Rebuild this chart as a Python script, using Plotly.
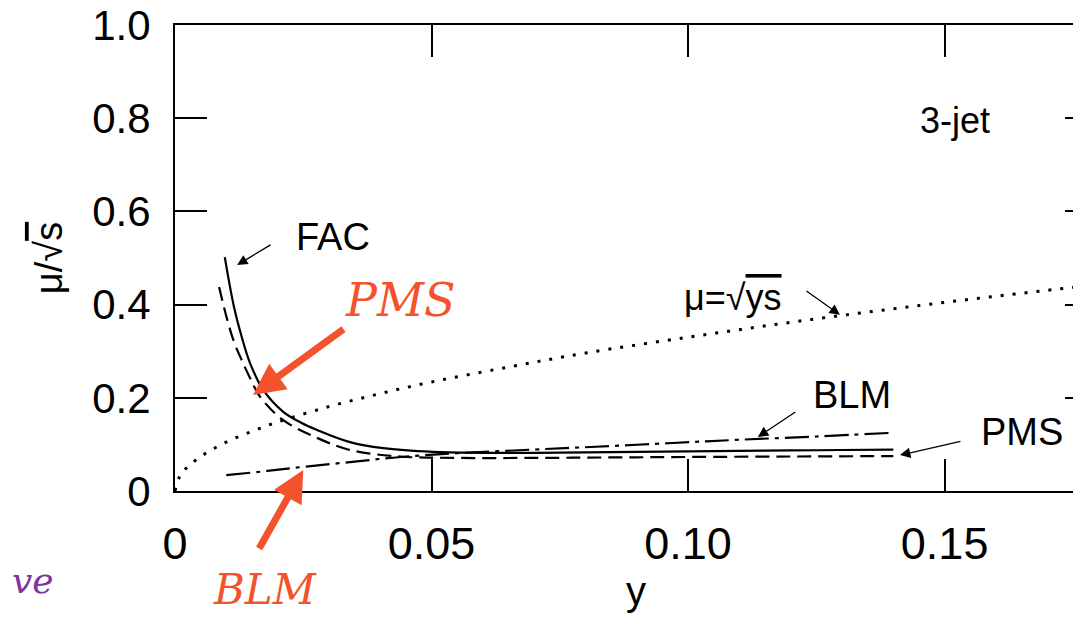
import plotly.graph_objects as go

# ---- data ----
fac_x = [0.0097, 0.0115, 0.013, 0.0146, 0.0172, 0.0211, 0.0245, 0.0277, 0.0341, 0.0406,
         0.0503, 0.060, 0.070, 0.080, 0.090, 0.100, 0.110, 0.120, 0.130, 0.140]
fac_y = [0.502, 0.395, 0.331, 0.275, 0.217, 0.170, 0.147, 0.131, 0.105, 0.092,
         0.084, 0.082, 0.082, 0.083, 0.084, 0.085, 0.086, 0.087, 0.088, 0.089]

pms_x = [0.0086, 0.010, 0.0115, 0.013, 0.0146, 0.0166, 0.0211, 0.0277, 0.0341, 0.0439,
         0.055, 0.070, 0.085, 0.100, 0.120, 0.140]
pms_y = [0.438, 0.375, 0.320, 0.281, 0.243, 0.202, 0.152, 0.114, 0.088, 0.074,
         0.071, 0.071, 0.072, 0.073, 0.074, 0.075]

blm_x = [0.0100, 0.018, 0.026, 0.035, 0.044, 0.055, 0.070, 0.082, 0.097, 0.110, 0.125, 0.140]
blm_y = [0.034, 0.043, 0.053, 0.063, 0.073, 0.081, 0.089, 0.095, 0.103, 0.110, 0.117, 0.125]

sq_x = [0, 0.001, 0.003, 0.006, 0.01, 0.015, 0.02, 0.03, 0.04, 0.05, 0.065, 0.08,
        0.10, 0.12, 0.14, 0.16, 0.18]
sq_y = [0, 0.033, 0.057, 0.081, 0.105, 0.128, 0.148, 0.181, 0.209, 0.234, 0.266, 0.296,
        0.330, 0.362, 0.391, 0.418, 0.443]

x_ticks = [0, 0.05, 0.10, 0.15]
x_tick_labels = ["0", "0.05", "0.10", "0.15"]
y_ticks = [0, 0.2, 0.4, 0.6, 0.8, 1.0]
y_tick_labels = ["0", "0.2", "0.4", "0.6", "0.8", "1.0"]

FONT = "Liberation Sans, Arial, Helvetica, sans-serif"
RED = "#f4522d"

fig = go.Figure()
fig.add_trace(go.Scatter(x=sq_x, y=sq_y, mode="lines", line_shape="spline",
                         line=dict(color="black", width=3, dash="3px,9px"), name="sqrt"))
fig.add_trace(go.Scatter(x=fac_x, y=fac_y, mode="lines", line_shape="spline",
                         line=dict(color="black", width=2.2), name="FAC"))
fig.add_trace(go.Scatter(x=pms_x, y=pms_y, mode="lines", line_shape="spline",
                         line=dict(color="black", width=2.2, dash="14px,7px"), name="PMS"))
fig.add_trace(go.Scatter(x=blm_x, y=blm_y, mode="lines", line_shape="spline",
                         line=dict(color="black", width=2.2, dash="24px,6px,4px,6px"), name="BLM"))
# dummy trace for the right-hand tick axis
fig.add_trace(go.Scatter(x=[None], y=[None], yaxis="y2", showlegend=False, hoverinfo="skip"))

ann = []
def label(x, y, t, size=38, color="black", fam=FONT, xref="x", yref="y", xanchor="center"):
    ann.append(dict(x=x, y=y, xref=xref, yref=yref, text=t, showarrow=False,
                    xanchor=xanchor, yanchor="middle",
                    font=dict(family=fam, size=size, color=color)))

def arrow(x, y, ax, ay, color="black", width=1.3, size=1.6):
    ann.append(dict(x=x, y=y, xref="x", yref="y", ax=ax, ay=ay, text="", showarrow=True,
                    arrowhead=2, arrowsize=size, arrowwidth=width, arrowcolor=color,
                    standoff=0, startstandoff=0))

label(0.0308, 0.545, "FAC")
label(0.152, 0.796, "3-jet", size=36)
label(0.1088, 0.416, "μ=√<span style='text-decoration:overline'>ys</span>", size=36)
label(0.132, 0.206, "BLM")
label(0.165, 0.127, "PMS")
arrow(0.0121, 0.485, 35, -21)
arrow(0.1296, 0.378, -35, -25)
arrow(0.1136, 0.116, 39, -26)
arrow(0.1413, 0.077, 62, -14)

# red overlay notes
label(0.0439, 0.41, "<i>PMS</i>", size=46, color=RED, fam="DejaVu Serif, serif")
label(0.0976, -0.2124, "<i>BLM</i>", size=42, color=RED, fam="DejaVu Serif, serif",
      xref="paper", yref="paper")
arrow(0.0152, 0.206, 92, -67, color=RED, width=7, size=0.9)
arrow(0.025, 0.045, -45, 80, color=RED, width=7, size=0.9)
label(-0.179, -0.191, "<i>ve</i>", size=36, color="#7a35a0", fam="DejaVu Serif, serif",
      xref="paper", yref="paper", xanchor="left")

fig.update_layout(
    width=1089, height=624,
    margin=dict(l=167, r=0, t=17, b=141, autoexpand=False),
    paper_bgcolor="white", plot_bgcolor="white",
    showlegend=False,
    annotations=ann,
    xaxis=dict(range=[0, 0.1797], tickvals=x_ticks, ticktext=x_tick_labels, automargin=False,
               ticks="inside", ticklen=32, tickwidth=1.6, tickcolor="black",
               showline=True, linecolor="black", linewidth=2, mirror="ticks",
               showgrid=False, zeroline=False, ticklabelstandoff=12,
               ticklabeloverflow="allow",
               tickfont=dict(family=FONT, size=45, color="black"),
               title=dict(text="y", font=dict(family=FONT, size=40, color="black"), standoff=6)),
    yaxis=dict(range=[0, 1.0], tickvals=y_ticks, ticktext=y_tick_labels, automargin=False,
               ticks="inside", ticklen=32, tickwidth=1.6, tickcolor="black",
               showline=True, linecolor="black", linewidth=2,
               showgrid=False, zeroline=False, ticklabelstandoff=14,
               ticklabeloverflow="allow",
               tickfont=dict(family=FONT, size=42, color="black"),
               title=dict(text="μ/√<span style='text-decoration:overline'>s</span>",
                          font=dict(family=FONT, size=38, color="black"), standoff=18)),
    yaxis2=dict(range=[0, 1.0], overlaying="y", side="right", tickvals=y_ticks, automargin=False,
                ticks="inside", ticklen=32, tickwidth=1.6, tickcolor="black",
                showticklabels=False, showline=False, showgrid=False, zeroline=False),
)

fig.write_html("out.html")
